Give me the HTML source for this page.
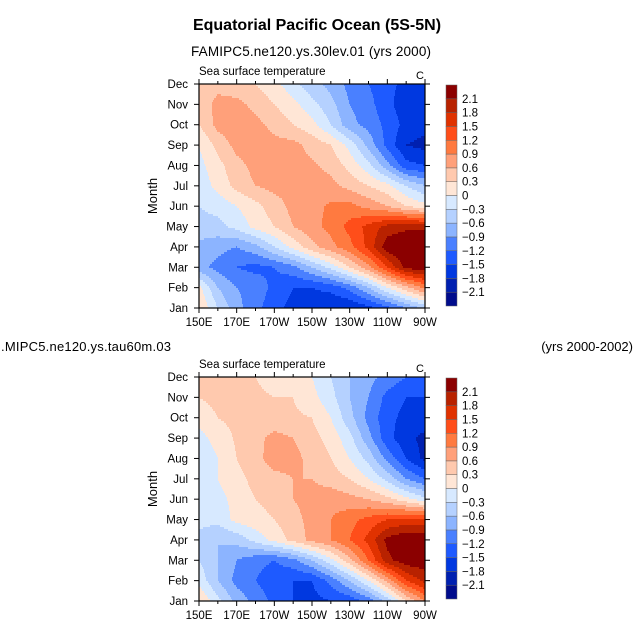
<!DOCTYPE html>
<html><head><meta charset="utf-8"><style>
html,body{margin:0;padding:0;background:#fff;}
svg{display:block;font-family:"Liberation Sans",sans-serif;}
</style></head><body>
<svg id="chart" width="635" height="635" viewBox="0 0 635 635">
<text x="317" y="30" text-anchor="middle" font-size="16" font-weight="bold">Equatorial Pacific Ocean (5S-5N)</text>
<text x="311" y="56" text-anchor="middle" font-size="13.5" textLength="240">FAMIPC5.ne120.ys.30lev.01 (yrs 2000)</text>
<text x="1" y="351" font-size="13" textLength="170">.MIPC5.ne120.ys.tau60m.03</text>
<text x="633" y="351" text-anchor="end" font-size="13">(yrs 2000-2002)</text>
<g id="panels"></g>
</svg>
<script>
const months = ["Jan","Feb","Mar","Apr","May","Jun","Jul","Aug","Sep","Oct","Nov","Dec"];
const lons = [150,160,170,180,190,200,210,220,230,240,250,260,270];
const lonTicks = [150,170,190,210,230,250,270];
const lonTickLabels = ["150E","170E","170W","150W","130W","110W","90W"];
const levels = [-2.1,-1.8,-1.5,-1.2,-0.9,-0.6,-0.3,0,0.3,0.6,0.9,1.2,1.5,1.8,2.1];
const levelLabels = ["\u22122.1","\u22121.8","\u22121.5","\u22121.2","\u22120.9","\u22120.6","\u22120.3","0","0.3","0.6","0.9","1.2","1.5","1.8","2.1"];
const colors = ["#000c8c","#0020b0","#0038e0","#1e5aff","#4a80ff","#8cb4ff","#b5d1ff","#d7e9ff","#ffe6d6","#ffc9ae","#ffa07a","#ff7a40","#ff4e1a","#e03200","#b82200","#8b0000"];
const sstTop = [
[0.3,-0.3,-0.8,-1.1,-1.4,-1.6,-1.7,-1.8,-1.8,-1.6,-1.3,-0.9,-0.5],
[0.1,-0.6,-0.9,-1.0,-1.3,-1.5,-1.5,-1.4,-1.1,-0.6,0.0,0.5,1.0],
[-0.8,-1.0,-1.2,-1.3,-1.2,-1.0,-0.6,-0.2,0.3,0.8,1.5,2.2,2.3],
[-0.7,-0.8,-0.9,-0.7,-0.3,0.1,0.5,0.8,1.1,1.6,2.3,2.5,2.5],
[-0.4,-0.4,-0.2,0.1,0.3,0.6,0.8,1.0,1.3,1.6,1.9,2.0,2.0],
[-0.3,-0.2,0.0,0.2,0.45,0.7,0.8,0.95,1.0,0.8,0.6,0.3,0.1],
[-0.2,0.1,0.4,0.6,0.7,0.7,0.75,0.7,0.5,0.3,0.1,-0.3,-0.6],
[-0.1,0.2,0.5,0.7,0.7,0.7,0.65,0.5,0.2,-0.2,-0.8,-1.4,-1.5],
[0.0,0.4,0.7,0.8,0.7,0.7,0.5,0.3,-0.1,-0.7,-1.3,-1.8,-1.9],
[0.3,0.7,0.8,0.7,0.5,0.3,0.1,-0.3,-0.8,-1.0,-1.3,-1.6,-1.7],
[0.4,0.7,0.7,0.5,0.3,0.1,-0.2,-0.5,-0.9,-1.1,-1.4,-1.7,-1.7],
[0.4,0.5,0.4,0.3,0.1,-0.2,-0.5,-0.7,-1.0,-1.2,-1.4,-1.6,-1.6]
];
const sstBottom = [
[0.3,-0.2,-0.7,-1.0,-1.3,-1.5,-1.6,-1.5,-1.4,-1.1,-0.5,0.3,0.9],
[-0.1,-0.6,-1.0,-1.2,-1.4,-1.5,-1.5,-1.1,-0.6,0.0,0.7,1.5,1.9],
[-0.3,-0.6,-0.9,-1.1,-1.2,-1.0,-0.6,-0.1,0.5,1.2,2.0,2.3,2.3],
[-0.4,-0.6,-0.5,-0.2,0.1,0.4,0.7,0.9,1.2,1.6,2.2,2.4,2.4],
[-0.2,-0.2,0.1,0.2,0.3,0.5,0.7,0.9,1.1,1.3,1.5,1.6,1.6],
[-0.2,-0.1,0.1,0.3,0.4,0.6,0.7,0.8,0.7,0.6,0.4,0.1,-0.2],
[-0.15,0.0,0.2,0.4,0.5,0.6,0.6,0.45,0.3,0.0,-0.4,-0.9,-1.2],
[-0.2,0.0,0.3,0.5,0.75,0.7,0.5,0.3,0.0,-0.4,-1.0,-1.5,-1.9],
[-0.1,0.1,0.35,0.5,0.7,0.6,0.4,0.2,-0.2,-0.8,-1.4,-1.7,-1.9],
[0.1,0.3,0.4,0.4,0.4,0.35,0.3,0.0,-0.5,-1.0,-1.4,-1.6,-1.6],
[0.3,0.4,0.4,0.35,0.3,0.3,0.1,-0.2,-0.6,-0.9,-1.3,-1.5,-1.5],
[0.3,0.35,0.35,0.3,0.2,0.1,0.0,-0.3,-0.6,-0.8,-1.0,-1.2,-1.3]
];
const NS = "http://www.w3.org/2000/svg";
const root = document.getElementById("panels");
function mk(tag, attrs, parent){const e=document.createElementNS(NS,tag);for(const k in attrs)e.setAttribute(k,attrs[k]);(parent||root).appendChild(e);return e;}
function colorIdx(v){let i=0;while(i<levels.length&&v>=levels[i])i++;return i;}
function drawPanel(data, top, name){
  const L=199,R=425,T=top,B=top+224;
  const xs=lon=>L+(lon-150)/120*(R-L);
  const ys=m=>B-m/11*(B-T);
  const g=mk("g",{});
  
  
  const step=2;
  for(let py=T;py<B;py+=step){
    const m=Math.min(11,Math.max(0,(B-(py+step/2))/(B-T)*11));
    const m0=Math.min(10,Math.floor(m)),fm=m-m0;
    let runStart=L,runC=-1;
    for(let px=L;px<=R;px+=1){
      let c=-1;
      if(px<R){
        const lon=150+(px+0.5-L)/(R-L)*120;
        const li=Math.min(11,Math.max(0,Math.floor((lon-150)/10))),fl=Math.min(1,Math.max(0,(lon-lons[li])/10));
        const v=(data[m0][li]*(1-fl)+data[m0][li+1]*fl)*(1-fm)+(data[m0+1][li]*(1-fl)+data[m0+1][li+1]*fl)*fm;
        c=colorIdx(v);
      }
      if(c!==runC){
        if(runC>=0){
          const r=mk("rect",{x:runStart,y:py,width:Math.min(px,R)-runStart,height:Math.min(step,B-py)+0.3,fill:colors[runC]},g);
          
          
        }
        runStart=px;runC=c;
      }
    }
  }
  const fr=mk("rect",{x:L,y:T,width:R-L,height:B-T,fill:"none",stroke:"#000","stroke-width":1.2},g);
  
  
  months.forEach((mo,i)=>{
    const y=ys(i);
    mk("line",{x1:L-5,x2:L,y1:y,y2:y,stroke:"#000"},g);
    mk("line",{x1:R,x2:R+5,y1:y,y2:y,stroke:"#000"},g);
    const t=mk("text",{x:L-11,y:y+4,"text-anchor":"end","font-size":11.5},g);
    t.textContent=mo;
    
    
  });
  for(let lon=150;lon<=270;lon+=10){
    const x=xs(lon),len=(lon%20===10)?5:3;
    mk("line",{x1:x,x2:x,y1:B,y2:B+len,stroke:"#000"},g);
    mk("line",{x1:x,x2:x,y1:T-len,y2:T,stroke:"#000"},g);
  }
  lonTicks.forEach((lon,i)=>{
    const t=mk("text",{x:xs(lon),y:B+18,"text-anchor":"middle","font-size":11.5},g);
    t.textContent=lonTickLabels[i];
    
    
  });
  const yt=mk("text",{x:0,y:0,"text-anchor":"middle","font-size":13,transform:`translate(157,${(T+B)/2}) rotate(-90)`},g);
  yt.textContent="Month";
  
  
  const st=mk("text",{x:L,y:T-9,"font-size":11.5},g);
  st.textContent="Sea surface temperature";
  
  
  const un=mk("text",{x:R-1,y:T-5,"text-anchor":"end","font-size":11},g);
  un.textContent="C";
  
  
  const cx=446,cw=11,cT=T+1,cB=B-2,bh=(cB-cT)/colors.length;
  for(let i=0;i<colors.length;i++){
    const r=mk("rect",{x:cx,y:cB-(i+1)*bh,width:cw,height:bh,fill:colors[i],stroke:"#666","stroke-width":0.5},g);
    
    
  }
  levels.forEach((lv,i)=>{
    const y=cB-(i+1)*bh;
    const t=mk("text",{x:462,y:y+4,"font-size":11.5},g);
    t.textContent=levelLabels[i];
    
    
  });
}
drawPanel(sstTop,84,"top-panel");
drawPanel(sstBottom,377,"bottom-panel");
</script>
</body></html>
